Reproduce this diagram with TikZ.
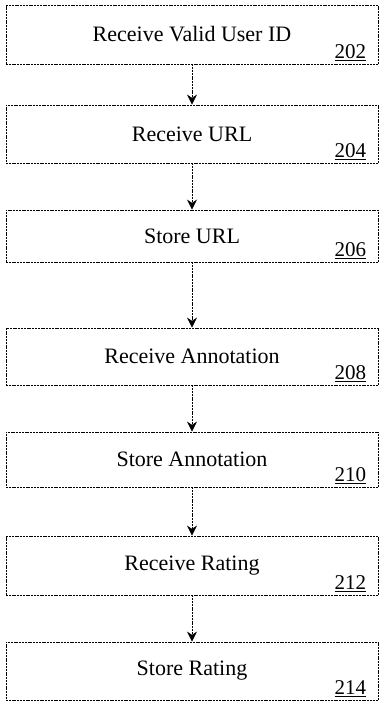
\documentclass[tikz,border=0pt]{standalone}
\usepackage{fontspec}
\setmainfont{Liberation Serif}
\usepackage{tikz}
\usetikzlibrary{arrows.meta}
\tikzset{
	stepbox/.style={draw, line width=0.8pt, dash pattern=on 2pt off 0.8pt, minimum width=372pt, inner sep=0pt, font=\fontsize{22}{26}\selectfont},
	num/.style={anchor=base east, inner sep=0pt, font=\fontsize{21}{24}\selectfont},
	flow/.style={line width=0.8pt, dash pattern=on 2pt off 0.8pt, -{Stealth[length=10pt,width=10pt]}}
}

\begin{document}
\begin{tikzpicture}[x=1pt,y=-1pt]
	\fill[white] (0,0) rectangle (381,703);
	\useasboundingbox (0,0) rectangle (381,703);
	
	%BOXES
	\node[stepbox, minimum height=59pt] (b202) at (192,34.5) {Receive Valid User ID};
	\node[stepbox, minimum height=58pt] (b204) at (192,134) {Receive URL};
	\node[stepbox, minimum height=52pt] (b206) at (192,236) {Store URL};
	\node[stepbox, minimum height=57pt] (b208) at (192,356.5) {Receive Annotation};
	\node[stepbox, minimum height=55pt] (b210) at (192,459.5) {Store Annotation};
	\node[stepbox, minimum height=59pt] (b212) at (192,565.5) {Receive Rating};
	\node[stepbox, minimum height=58pt] (b214) at (192,671) {Store Rating};
	
	%NUMBERS
	\node[num] (n202) at ([xshift=-12pt,yshift=6pt]b202.south east) {\underline{202}};
	\node[num] (n204) at ([xshift=-12pt,yshift=6pt]b204.south east) {\underline{204}};
	\node[num] (n206) at ([xshift=-12pt,yshift=6pt]b206.south east) {\underline{206}};
	\node[num] (n208) at ([xshift=-12pt,yshift=6pt]b208.south east) {\underline{208}};
	\node[num] (n210) at ([xshift=-12pt,yshift=6pt]b210.south east) {\underline{210}};
	\node[num] (n212) at ([xshift=-12pt,yshift=6pt]b212.south east) {\underline{212}};
	\node[num] (n214) at ([xshift=-12pt,yshift=6pt]b214.south east) {\underline{214}};
	
	%ARROWS
	\draw[flow] (b202) -- (b204);
	\draw[flow] (b204) -- (b206);
	\draw[flow] (b206) -- (b208);
	\draw[flow] (b208) -- (b210);
	\draw[flow] (b210) -- (b212);
	\draw[flow] (b212) -- (b214);
\end{tikzpicture}
\end{document}
